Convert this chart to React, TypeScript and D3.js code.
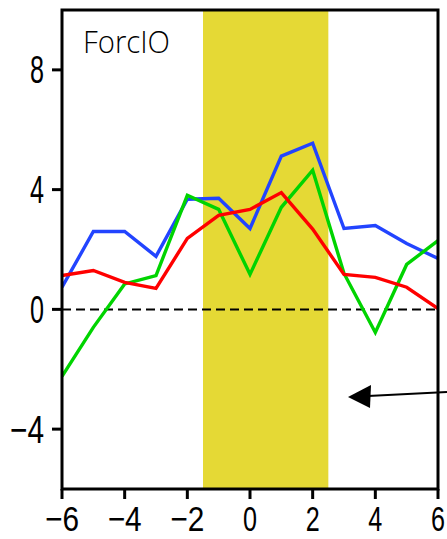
import React from "react";
import * as d3 from "d3";

const xs = [-6, -5, -4, -3, -2, -1, 0, 1, 2, 3, 4, 5, 6];
const blueValues = [0.74, 2.6, 2.6, 1.77, 3.68, 3.71, 2.7, 5.12, 5.55, 2.7, 2.8, 2.2, 1.7];
const redValues = [1.13, 1.3, 0.9, 0.7, 2.37, 3.14, 3.34, 3.9, 2.68, 1.17, 1.07, 0.74, 0.03];
const greenValues = [-2.24, -0.6, 0.85, 1.13, 3.81, 3.34, 1.17, 3.41, 4.65, 1.2, -0.77, 1.5, 2.3];
const xTicks = [-6, -4, -2, 0, 2, 4, 6];
const yTicks = [-4, 0, 4, 8];
const band = [-1.5, 2.5];
const title = "ForcIO";

const W = 447, H = 539;
const L = 62, R = 438, T = 10, B = 489;

export default function App() {
  const x = d3.scaleLinear().domain([-6, 6]).range([L, R]);
  const y = d3.scaleLinear().domain([-6, 10]).range([B, T]);
  const line = d3.line<number>().x((_, i) => x(xs[i])).y((d) => y(d));
  const series = [
    { v: blueValues, c: "#2244ff" },
    { v: greenValues, c: "#00d400" },
    { v: redValues, c: "#ff0000" },
  ];
  const fmt = (v: number) => (v < 0 ? "\u2212" + Math.abs(v) : String(v));
  const labelW = (v: number) => (v < 0 ? 34 : 14);
  return (
    <svg width={W} height={H} style={{ position: "absolute", left: 0, top: 0, background: "#fff" }}>
      <defs>
        <clipPath id="plot">
          <rect x={L} y={T} width={R - L} height={B - T} />
        </clipPath>
      </defs>
      <rect x={x(band[0])} y={T} width={x(band[1]) - x(band[0])} height={B - T} fill="#e5d935" />
      <line x1={L} x2={R} y1={y(0)} y2={y(0)} stroke="#000" strokeWidth={2} strokeDasharray="9,5" />
      <g clipPath="url(#plot)">
        {series.map((s, i) => (
          <path key={i} d={line(s.v) || ""} fill="none" stroke={s.c} strokeWidth={3.4} strokeLinejoin="miter" />
        ))}
      </g>
      <rect x={L} y={T} width={R - L} height={B - T} fill="none" stroke="#000" strokeWidth={3} />
      {xTicks.map((t) => (
        <g key={t}>
          <line x1={x(t)} x2={x(t)} y1={B} y2={B + 10} stroke="#000" strokeWidth={3} />
          <text
            x={x(t)}
            y={531}
            textAnchor="middle"
            fontFamily="Liberation Sans, Arial, sans-serif"
            fontSize={35}
            textLength={labelW(t)}
            lengthAdjust="spacingAndGlyphs"
          >
            {fmt(t)}
          </text>
        </g>
      ))}
      {yTicks.map((t) => (
        <g key={t}>
          <line x1={L - 10} x2={L} y1={y(t)} y2={y(t)} stroke="#000" strokeWidth={3} />
          <text
            x={44 - labelW(t) / 2}
            y={y(t) + 13.5}
            textAnchor="middle"
            fontFamily="Liberation Sans, Arial, sans-serif"
            fontSize={38}
            textLength={labelW(t)}
            lengthAdjust="spacingAndGlyphs"
          >
            {fmt(t)}
          </text>
        </g>
      ))}
      <text
        x={83}
        y={53}
        fontFamily="Open Sans, Lato, Liberation Sans, sans-serif"
        fontSize={31}
        fontWeight={300}
        textLength={87}
        lengthAdjust="spacingAndGlyphs"
      >
        {title}
      </text>
      <line x1={447} y1={392} x2={368} y2={396} stroke="#000" strokeWidth={2} />
      <path d="M348,397 L371,385 L370,408 Z" fill="#000" />
    </svg>
  );
}
